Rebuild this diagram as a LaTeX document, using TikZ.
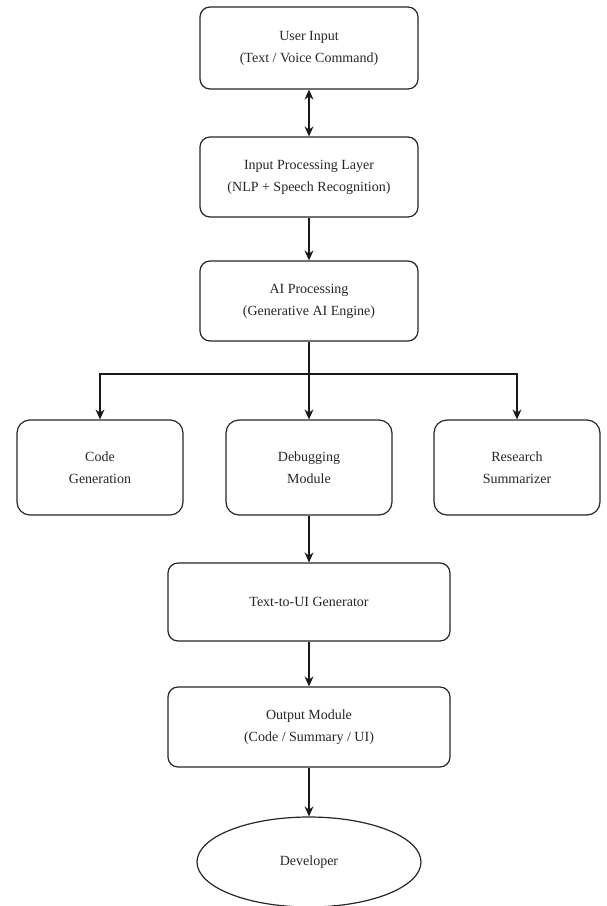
\documentclass[tikz,border=0pt]{standalone}
\usepackage{fontspec}
\setmainfont{Liberation Serif}
\usetikzlibrary{arrows.meta,shapes.geometric}
\begin{document}
\begin{tikzpicture}[x=1pt,y=-1pt,
  box/.style={draw=black!85, rounded corners=10pt, line width=1.2pt, align=center,
    font=\fontsize{14}{22}\selectfont, inner sep=0pt, text=black!85},
  arr/.style={-{Stealth[length=10pt,width=9pt]}, line width=1.3pt, draw=black!90},
  darr/.style={{Stealth[length=10pt,width=9pt]}-{Stealth[length=10pt,width=9pt]}, line width=1.3pt, draw=black!90},
]
\useasboundingbox (0,0) rectangle (606,906);
\node[box, minimum width=218pt, minimum height=82pt] (u) at (309,48) {User Input\\(Text / Voice Command)};
\node[box, minimum width=218pt, minimum height=80pt] (ip) at (309,177) {Input Processing Layer\\(NLP + Speech Recognition)};
\node[box, minimum width=218pt, minimum height=80pt] (ai) at (309,301) {AI Processing\\(Generative AI Engine)};
\node[box, rounded corners=13pt, minimum width=166pt, minimum height=95pt] (code) at (100,467.5) {Code\\Generation};
\node[box, rounded corners=13pt, minimum width=166pt, minimum height=95pt] (dbg) at (309,467.5) {Debugging\\Module};
\node[box, rounded corners=13pt, minimum width=166pt, minimum height=95pt] (res) at (517,467.5) {Research\\Summarizer};
\node[box, minimum width=282pt, minimum height=78pt] (tui) at (309,602) {Text-to-UI Generator};
\node[box, minimum width=282pt, minimum height=80pt] (out) at (309,727) {Output Module\\(Code / Summary / UI)};
\node[box, ellipse, minimum width=224pt, minimum height=90pt] (dev) at (309,862) {Developer};
\coordinate (br) at (309,374);
\draw[darr] (u) -- (ip);
\draw[arr] (ip) -- (ai);
\draw[line width=1.3pt, draw=black!90] (ai) -- (br);
\draw[arr] (br) -| (code);
\draw[arr] (br) -| (res);
\draw[arr] (br) -- (dbg);
\draw[arr] (dbg) -- (tui);
\draw[arr] (tui) -- (out);
\draw[arr] (out) -- (dev);
\end{tikzpicture}
\end{document}
